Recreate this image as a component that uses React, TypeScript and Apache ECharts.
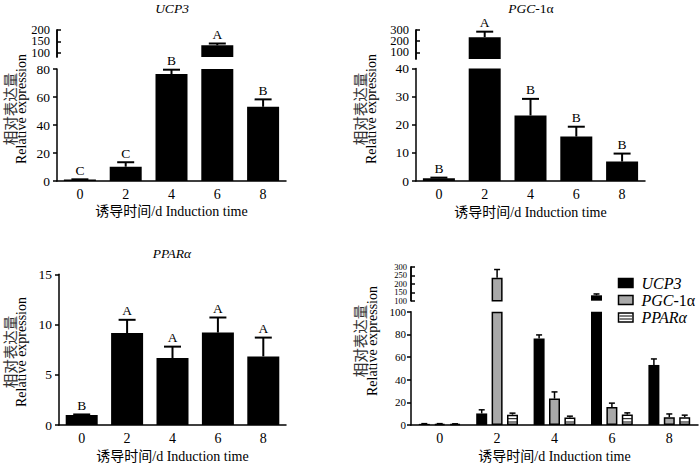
import React, { useEffect, useRef } from "react";
import * as echarts from "echarts";

const categories = ["0", "2", "4", "6", "8"];

const ucp3 = [1, 10.2, 76.4, 132, 53];
const ucp3Err = [0.2, 3.2, 3.1, 8, 5.3];
const ucp3Letters = ["C", "C", "B", "A", "B"];

const pgc = [1, 236, 23.3, 15.8, 6.9];
const pgcErr = [0.2, 49, 5.9, 3.5, 2.85];
const pgcLetters = ["B", "A", "B", "B", "B"];

const ppar = [1, 9.15, 6.67, 9.2, 6.83];
const pparErr = [0.05, 1.32, 1.13, 1.5, 1.87];
const pparLetters = ["B", "A", "A", "A", "A"];

const seriesNames = ["UCP3", "PGC-1α", "PPARα"];

// upper (broken) axis tick labels, split in two interleaved sets
const ucp3UpperTicksA = [100, 200];
const ucp3UpperTicksB = [150];
const pgcUpperTicksA = [100, 300];
const pgcUpperTicksB = [200];
const allUpperTicksA = [100, 200, 300];
const allUpperTicksB = [150, 250];

const SERIF = "Liberation Serif";
const FONT = "Liberation Serif, Noto Sans CJK SC, serif";
const XNAME = "诱导时间/d Induction time";
const YNAME = "{cn|相对表达量}\n{en|Relative expression}";

function errSeries(
  xi: number,
  yi: number,
  values: number[],
  errs: number[],
  letters: string[] | null,
  lo: number,
  hi: number,
  offset: number,
  capW: number,
  lw: number
) {
  return {
    type: "custom",
    xAxisIndex: xi,
    yAxisIndex: yi,
    z: 5,
    clip: false,
    silent: true,
    data: values.map((v, i) => [i, v]),
    encode: { x: 0, y: 1 },
    renderItem: (params: any, api: any) => {
      const i = params.dataIndex;
      const v = values[i];
      const e = errs[i];
      if (!(v > lo && v <= hi)) return null;
      const top = api.coord([i, v]);
      const et = api.coord([i, v + e]);
      const x = top[0] + offset;
      const children: any[] = [
        {
          type: "line",
          shape: { x1: x, y1: top[1], x2: x, y2: et[1] },
          style: { stroke: "#000", lineWidth: lw },
        },
        {
          type: "line",
          shape: { x1: x - capW / 2, y1: et[1], x2: x + capW / 2, y2: et[1] },
          style: { stroke: "#000", lineWidth: lw },
        },
      ];
      if (letters) {
        children.push({
          type: "text",
          style: {
            text: letters[i],
            x: x,
            y: et[1] - 2,
            textAlign: "center",
            textVerticalAlign: "bottom",
            fontFamily: SERIF,
            fontSize: 13.5,
            fill: "#000",
          },
        });
      }
      return { type: "group", children };
    },
  };
}

// horizontal stripes inside the PPARα bars of the combined panel
function stripeSeries(xi: number, yi: number, values: number[], hi: number, offset: number, bw: number) {
  return {
    type: "custom",
    xAxisIndex: xi,
    yAxisIndex: yi,
    z: 4,
    silent: true,
    data: values.map((v, i) => [i, v]),
    encode: { x: 0, y: 1 },
    renderItem: (params: any, api: any) => {
      const i = params.dataIndex;
      const v = Math.min(values[i], hi);
      const top = api.coord([i, v]);
      const base = api.coord([i, 0]);
      const x = top[0] + offset;
      const children: any[] = [];
      for (let y = base[1] - 3; y > top[1] + 1.5; y -= 3.3) {
        children.push({
          type: "line",
          shape: { x1: x - bw / 2 + 1, y1: y, x2: x + bw / 2 - 1, y2: y },
          style: { stroke: "#000", lineWidth: 1 },
        });
      }
      return { type: "group", children };
    },
  };
}

function xAxis(gridIndex: number, visible: boolean, nameGap = 23) {
  if (!visible) {
    return { type: "category", gridIndex, data: categories, show: false };
  }
  return {
    type: "category",
    gridIndex,
    data: categories,
    axisTick: { show: false },
    axisLine: { lineStyle: { color: "#000", width: 1.5 } },
    axisLabel: { color: "#000", fontSize: 14, fontFamily: SERIF, margin: 6 },
    name: XNAME,
    nameLocation: "middle",
    nameGap,
    nameTextStyle: { color: "#000", fontSize: 14, fontFamily: FONT },
  };
}

function yAxis(
  gridIndex: number,
  min: number,
  max: number,
  opts: {
    interval?: number;
    custom?: number[];
    inside?: boolean;
    fontSize?: number;
    margin?: number;
  }
) {
  const ax: any = {
    type: "value",
    gridIndex,
    position: "left",
    offset: 0,
    min,
    max,
    splitLine: { show: false },
    axisLine: { show: true, onZero: false, lineStyle: { color: "#000", width: 1.5 } },
    axisTick: {
      show: true,
      inside: !!opts.inside,
      length: 4,
      lineStyle: { color: "#000", width: 1.5 },
    },
    axisLabel: {
      color: "#000",
      fontSize: opts.fontSize || 13.5,
      fontFamily: SERIF,
      margin: opts.margin ?? 7,
      showMinLabel: true,
      showMaxLabel: true,
      hideOverlap: false,
    },
  };
  if (opts.interval) ax.interval = opts.interval;
  if (opts.custom) {
    ax.axisLabel.customValues = opts.custom;
    ax.axisTick.customValues = opts.custom;
  }
  return ax;
}

const black = { color: "#000" };
const gray = { color: "#a9a9a9", borderColor: "#000", borderWidth: 1.5 };
const white = { color: "#fff", borderColor: "#000", borderWidth: 1.5 };

function bars(
  xi: number,
  yi: number,
  values: number[],
  lo: number,
  hi: number,
  width: number,
  style: any,
  name?: string
) {
  const s: any = {
    type: "bar",
    xAxisIndex: xi,
    yAxisIndex: yi,
    barWidth: width,
    barGap: "40%",
    itemStyle: style,
    data: values.map((v) => (v > lo ? Math.min(v, hi) : "-")),
  };
  if (name) s.name = name;
  return s;
}

function yName(x: number, y: number) {
  return {
    type: "text",
    x,
    y,
    rotation: Math.PI / 2,
    style: {
      text: YNAME,
      textAlign: "center",
      textVerticalAlign: "middle",
      rich: {
        cn: { fontSize: 14.5, fontFamily: "Noto Sans CJK SC", fill: "#333", lineHeight: 12.5 },
        en: { fontSize: 14, fontFamily: SERIF, fill: "#000", lineHeight: 12.5 },
      },
    },
  };
}

function rich(size: number) {
  return {
    i: { fontSize: size, fontFamily: SERIF, fontStyle: "italic", fill: "#000" },
    n: { fontSize: size, fontFamily: SERIF, fill: "#000" },
  };
}

function title(x: number, y: number, text: string, align = "center", size = 13.5) {
  return {
    type: "text",
    x,
    y,
    style: {
      text,
      textAlign: align,
      textVerticalAlign: "middle",
      rich: rich(size),
    },
  };
}

const legendTexts = ["{i|UCP3}", "{i|PGC}{n|-1α}", "{i|PPARα}"];

function legendGraphic() {
  const els: any[] = [];
  const ys = [283, 300, 317.5];
  ys.forEach((y, k) => {
    const style = k === 0 ? black : k === 1 ? gray : white;
    els.push({
      type: "rect",
      shape: { x: 618.5, y: y - 4.5, width: 14.5, height: 9 },
      style: { fill: style.color, stroke: "#000", lineWidth: 1.5 },
    });
    if (k === 2) {
      [y - 1.5, y + 1.5].forEach((sy) =>
        els.push({
          type: "line",
          shape: { x1: 619.5, y1: sy, x2: 632, y2: sy },
          style: { stroke: "#000", lineWidth: 1 },
        })
      );
    }
    els.push(title(641.5, y, legendTexts[k], "left", 16));
  });
  return els;
}

export default function App() {
  const ref = useRef<HTMLDivElement>(null);
  useEffect(() => {
    document.body.style.margin = "0";
    if (!ref.current) return;
    const chart = echarts.init(ref.current, undefined, { renderer: "svg" });
    const INF = Infinity;
    const option: any = {
      animation: false,
      backgroundColor: "#fff",
      textStyle: { fontFamily: FONT },
      grid: [
        { left: 57, top: 30, width: 229, height: 27 },
        { left: 57, top: 69, width: 229, height: 112 },
        { left: 416, top: 30, width: 229, height: 29 },
        { left: 416, top: 68.5, width: 229, height: 112.5 },
        { left: 59, top: 274.3, width: 227, height: 151.4 },
        { left: 411, top: 267, width: 287, height: 33.7 },
        { left: 411, top: 311.7, width: 287, height: 114 },
      ],
      xAxis: [
        xAxis(0, false),
        xAxis(1, true, 23),
        xAxis(2, false),
        xAxis(3, true, 24),
        xAxis(4, true, 24),
        xAxis(5, false),
        xAxis(6, true, 24),
      ],
      yAxis: [
        yAxis(0, 80, 200, { custom: ucp3UpperTicksA, inside: true, fontSize: 12.5 }),
        yAxis(1, 0, 80, { interval: 20 }),
        yAxis(2, 40, 300, { custom: pgcUpperTicksA, inside: true, fontSize: 12.5 }),
        yAxis(3, 0, 40, { interval: 10 }),
        yAxis(4, 0, 15, { interval: 5 }),
        yAxis(5, 100, 300, { custom: allUpperTicksA, inside: true, fontSize: 8.5, margin: 4 }),
        yAxis(6, 0, 100, { interval: 20, fontSize: 11, margin: 5 }),
        // companion axes carrying the in-between labels of the broken axes
        yAxis(0, 80, 200, { custom: ucp3UpperTicksB, inside: true, fontSize: 12.5 }),
        yAxis(2, 40, 300, { custom: pgcUpperTicksB, inside: true, fontSize: 12.5 }),
        yAxis(5, 100, 300, { custom: allUpperTicksB, inside: true, fontSize: 8.5, margin: 4 }),
      ],
      graphic: [
        title(172, 8.5, "{i|UCP3}"),
        title(531, 8.5, "{i|PGC}{n|-1α}"),
        title(172, 253.5, "{i|PPARα}"),
        yName(15.5, 109),
        yName(365.5, 109),
        yName(15.5, 352),
        yName(366, 341),
        ...legendGraphic(),
      ],
      series: [
        // Panel 1: UCP3
        bars(1, 1, ucp3, -INF, 80, 32, black),
        bars(0, 0, ucp3, 80, INF, 32, black),
        errSeries(1, 1, ucp3, ucp3Err, ucp3Letters, -INF, 80, 0, 17, 2),
        errSeries(0, 0, ucp3, ucp3Err, ucp3Letters, 80, INF, 0, 17, 2),
        // Panel 2: PGC-1α
        bars(3, 3, pgc, -INF, 40, 32, black),
        bars(2, 2, pgc, 40, INF, 32, black),
        errSeries(3, 3, pgc, pgcErr, pgcLetters, -INF, 40, 0, 17, 2),
        errSeries(2, 2, pgc, pgcErr, pgcLetters, 40, INF, 0, 17, 2),
        // Panel 3: PPARα
        bars(4, 4, ppar, -INF, 15, 32, black),
        errSeries(4, 4, ppar, pparErr, pparLetters, -INF, 15, 0, 17, 2),
        // Panel 4: combined
        bars(6, 6, ucp3, -INF, 100, 11, black, seriesNames[0]),
        bars(6, 6, pgc, -INF, 100, 11, gray, seriesNames[1]),
        bars(6, 6, ppar, -INF, 100, 11, white, seriesNames[2]),
        bars(5, 5, ucp3, 100, INF, 11, black, seriesNames[0]),
        bars(5, 5, pgc, 100, INF, 11, gray, seriesNames[1]),
        bars(5, 5, ppar, 100, INF, 11, white, seriesNames[2]),
        stripeSeries(6, 6, ppar, 100, 15.4, 11),
        errSeries(6, 6, ucp3, ucp3Err, null, -INF, 100, -15.4, 6, 1.5),
        errSeries(6, 6, pgc, pgcErr, null, -INF, 100, 0, 6, 1.5),
        errSeries(6, 6, ppar, pparErr, null, -INF, 100, 15.4, 6, 1.5),
        errSeries(5, 5, ucp3, ucp3Err, null, 100, INF, -15.4, 6, 1.5),
        errSeries(5, 5, pgc, pgcErr, null, 100, INF, 0, 6, 1.5),
        errSeries(5, 5, ppar, pparErr, null, 100, INF, 15.4, 6, 1.5),
      ],
    };
    chart.setOption(option);
    return () => chart.dispose();
  }, []);
  return <div ref={ref} style={{ width: 700, height: 464 }} />;
}
